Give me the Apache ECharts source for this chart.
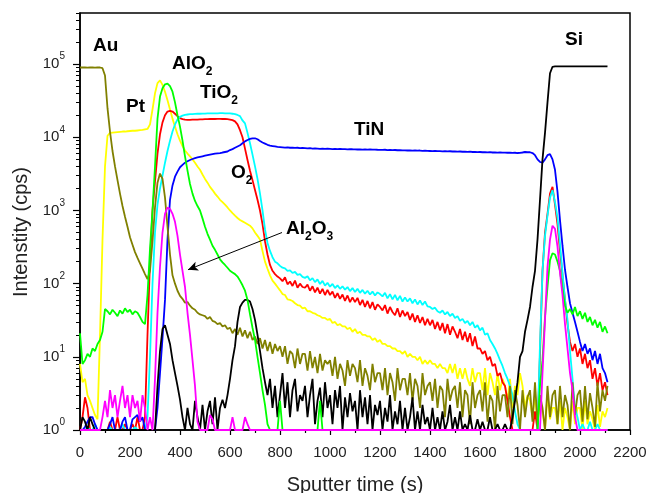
<!DOCTYPE html>
<html><head><meta charset="utf-8">
<script src="https://cdn.jsdelivr.net/npm/echarts@6/dist/echarts.min.js"></script>
<style>html,body{margin:0;padding:0;background:#fff}#c{width:649px;height:493px}</style>
</head><body><div id="c"></div>
<script>
// sampling grid (s)
const times = [];
for (let t = 0; t <= 2110; t += 10) times.push(t);

const xTickValues = [0,200,400,600,800,1000,1200,1400,1600,1800,2000,2200];
const yTickValues = [1,10,100,1000,10000,100000];
const yTickExponents = ['0','1','2','3','4','5'];
const yMinorValues = [2,3,4,5,6,7,8,9,20,30,40,50,60,70,80,90,200,300,400,500,600,700,800,900,
  2000,3000,4000,5000,6000,7000,8000,9000,20000,30000,40000,50000,60000,70000,80000,90000,
  200000,300000,400000,500000];

const au = [
90000,90500,90000,89500,90000,90000,89800,90200,90000,88000,
70000,25000,12000,6500,4000,2600,1700,1150,820,600,
430,340,270,225,190,160,135,115,150,380,
1100,2400,3200,2700,1500,600,250,130,100,80,
68,62,55,56,50,46,44,40,38,37,
36,33,35,31,30,28,29,26,27,24,
25,21,24,20,25,19,23,18,22,17,
19,15,18,13,17,12,16,11,15,12,
14,10,14,8,12,11,7,13,8,11,
11,6.5,12,7,10,6,11,6.5,9,8,
9,5.5,10,5,8,6.5,4,9,5.5,8,
7,4.5,9,4,7,5.5,3.5,8,4.5,6,
6,3.5,7,3,6,4.5,2.5,7,3.5,5,
5,3,6,2.5,5,4,2,6,3,4,
4.5,2.5,5,2,4,3.5,1.5,5,2.5,3.5,
4,2,4.5,1.5,3.5,3,1.2,4.5,2,3,
3.5,1.8,4.5,1.3,3,2.5,1,4,1.8,3,
3,1.5,4,1.2,3.5,2.2,1,3.5,1.5,2.8,
3.5,1.3,4.5,1.2,3,2,1,4,1.5,3,
3.5,1.2,4,1.5,3,2.2,1,4.5,1.6,3,
3.5,1.3,4,1.4,3.2,2,1.1,4.5,1.8,3.5,
2.5,4];

const pt = [
8,4.5,5,3,2.5,2,1.6,1.4,20,400,
4000,10500,11500,11600,11700,11800,11900,12000,12000,12100,
12200,12300,12300,12400,12500,12600,12800,13000,15000,24000,
40000,55000,60000,52000,42000,32000,24000,18000,14000,11000,
9000,7600,6600,6000,5500,5000,4500,4000,3600,3100,
2700,2400,2100,1900,1700,1550,1400,1300,1200,1100,
1000,920,850,790,740,710,680,650,620,570,
500,450,400,280,200,160,130,110,100,90,
81,72,70,61,60,58,54,51,50,46,
47,42,42,40,39,37,36,34,34,32,
33,29,30,27,28,26,26,24,25,22,
24,21,22,20,20,19,19,17,18,16,
17,15,15,14,14,13,13,12,12,11,
12,10,11,10,10,9,10,8,9,8,
9,8,8,7,8,7,7,6,8,6,
8,5,7,5,7,5,4,7,4.5,6,
6,3.5,7,3,6,4.5,3,6,3.5,5,
4,2.5,5,2,4,3,6,4,2,3,
2.5,1.5,3,1.2,2.5,1.8,1,3,1.4,2,
2,1.2,2.5,1,2,1.5,1,2.5,1.2,2,
2,1,2.5,1.2,1.8,1.4,1,2.2,1.1,1.8,
1.5,2];

const alo2 = [
21,8,9,11,10,13,12,15,17,22,
45,42,38,44,40,36,43,39,46,41,
44,38,42,40,35,30,28,70,300,1000,
4000,18000,36000,47000,53000,54000,50000,42000,30000,20000,
14000,9000,5500,3500,2300,1700,1350,1150,1000,780,
600,480,400,330,290,250,215,195,180,165,
150,142,135,125,110,95,80,60,38,25,
17,10,6,3.5,2.2,1.2,1,1,1,1,
2.5,1,1,1,1,1,1,1,1,1,
1,1,1,1,1,1,2.5,1,1,1,
1,1,1,1,1,1,1,1,1,1,
1,1,1,1,1,1,1,1,1,1,
1,1,1,1,1,1,1,1,1,1,
1,1,1,1,1,1,1,1,1,1,
1,1,1,1,1,1,1,1,1,1,
1,1,1,1,1,1,1,1,1,1,
1,1,1,1,1,1,1,1,1,1,
1,1,1,1,1,1,1,1,1,1,
1,1,1,1,4,9,35,90,210,260,
250,200,150,85,50,40,45,38,48,36,
42,33,40,30,35,27,32,25,30,22,
26,21];

const o2 = [
1,1.5,2.8,2,1,1,1,1,1,1,
1,1,1.3,1,1,1.5,1,1,1.2,1,
1,1.2,1,1.5,1,1,1.5,20,200,1000,
2500,6000,11000,16000,20000,22500,23000,22500,21000,19500,
18300,17700,17400,17300,17300,17400,17500,17500,17600,17600,
17700,17700,17800,17800,17800,17900,17900,17800,17800,17700,
17500,17200,16500,15000,12500,10000,7000,4900,3500,2600,
1900,1400,1000,650,380,250,180,150,135,125,
118,108,122,98,107,93,110,88,100,90,
88,97,80,92,76,88,73,85,70,82,
70,78,64,74,62,71,58,69,56,65,
56,64,51,60,48,58,46,56,44,52,
48,43,51,39,48,41,37,46,35,43,
36,41,32,39,30,37,29,35,27,33,
27,32,24,30,23,29,21,28,20,26,
22,18,24,17,22,16,21,14,19,13,
13,11,12,9,10,7.5,8,5.5,6,4.5,
4,2.5,1.5,1,1,1,1,1,1,1,
1,1,1.8,1,11,150,500,900,1700,2100,
1200,650,280,130,60,28,16,12,15,10,
13,8,11,7,9,5,7,4,6,3.5,
4.5,3];

const tio2 = [
1,1,1,1.1,1,1,1.2,1,1,1,
1,1,1.1,1,1,1,1,1.2,1,1,
1,1,1.1,1,1,1,1,1.5,10,100,
500,1200,2000,3000,4500,6500,9000,12000,15000,17500,
19000,19800,20300,20500,20700,20800,20900,21000,21000,21100,
21100,21200,21200,21300,21300,21300,21400,21400,21300,21300,
21200,21000,20700,20200,19500,17000,15500,11500,8300,5800,
4000,2700,1700,1000,550,360,280,230,200,190,
175,165,162,150,152,140,145,132,135,124,
120,126,111,119,105,114,99,109,94,103,
91,99,87,95,85,92,83,90,79,87,
77,85,75,82,73,80,71,78,69,76,
72,67,75,63,72,61,70,59,68,57,
65,57,63,54,61,52,59,51,57,49,
48,45,47,42,40,43,38,41,36,39,
34,36,31,33,29,31,27,30,25,27,
23,25,20,21,17,15,13,11,9,7.5,
6,5,4,3,1.8,1.2,1,1,1,1,
1,1,1,1,15,150,450,850,1500,1900,
1300,800,350,140,60,32,12,5,2,1.5,
1,1.2,1,1,1.3,1,1,1.2,1,1,
1,1];

const tin = [
1,1,1.1,1.3,1.5,1.5,1.2,1,1,1,
1,1,1.2,1.5,1,1,1,1.3,1.5,1,
1,1.4,1.5,1.6,1.3,1.5,1,1,1,1,
1,2,6,18,60,400,1400,2200,2900,3400,
3900,4200,4500,4700,4900,5050,5200,5300,5400,5500,
5600,5700,5800,5900,6000,6050,6100,6200,6300,6400,
6700,6900,7200,7500,7800,8300,8800,9200,9500,9700,
9700,9400,8900,8500,8200,7900,7700,7600,7500,7400,
7350,7300,7250,7300,7200,7250,7150,7200,7100,7150,
7100,7050,7100,7000,7050,7000,6950,7000,6950,6980,
6950,6900,6950,6900,6920,6880,6900,6850,6900,6870,
6850,6820,6860,6800,6840,6790,6820,6780,6800,6760,
6750,6720,6760,6700,6730,6680,6710,6660,6690,6640,
6650,6600,6640,6580,6620,6560,6600,6540,6570,6520,
6500,6480,6520,6460,6490,6440,6470,6420,6450,6400,
6420,6380,6400,6350,6380,6330,6360,6300,6340,6280,
6300,6250,6280,6220,6260,6200,6230,6180,6210,6160,
6180,6150,6170,6120,6150,6100,6130,6200,6300,6250,
6250,6100,5700,5000,4600,4500,5000,5700,5900,5000,
3600,1800,740,330,155,90,54,40,30,22,
16,12,15,11,13,9,12,8,11,7,
6,4.5];

const al2o3 = [
1,1,1,1,1,1,1,1,1,1.5,
2.5,1.5,3.5,2,3,1.5,2.5,4,2,3,
1.5,3,2,2.5,1.3,3,2,1,1.5,1,
5,40,170,500,900,1100,1050,900,700,450,
250,150,90,40,20,9,4,1.3,1,1,
1,1,1.6,1.4,1,1,1,1,1,1,
1,1.5,1,1,1,1,1.5,1.2,1,1,
1,1,1,1,1,1,1,1,1,1,
1,1,1,1,1,1,1,1,1,1,
1,1,1,1,1,1,1,1,1,1,
1,1,1,1,1,1,1,1,1,1,
1,1,1,1,1,1,1,1,1,1,
1,1,1,1,1,1,1,1,1,1,
1,1,1,1,1,1,1,1,1,1,
1,1,1,1,1,1,1,1,1,1,
1,1,1,1,1,1,1,1,1,1,
1,1,1,1,1,1,1,1,1,1,
1,1,1,1,1,1,1,1,1,1,
1,1,1,1,1,6,32,170,400,620,
560,320,140,70,28,13,6,3.5,1.5,1,
1,1,1,1,1,1,1,1,1,1,
1,1];

const si = [
1,1.5,1.3,1,1.5,1.2,1,1,1,1,
1,1,1,1,1,1,1,1,1,1,
1,1,1,1,1,1,1,1,1,1,
1,4,12,24,27,20,15,9,6,4,
2.6,1.5,1,2,1.2,1,2.5,1.5,1,2.2,
1,1.8,2.5,1.2,2.8,1,2,2.6,2,3,
5,9,14,30,48,55,60,60,57,45,
32,20,12,7,4.5,3,5,2,4,1.5,
3,6,2,4.5,1.5,3.5,5,1.8,3,2.5,
4,1.5,3,5,1.2,2.5,3.8,1.5,4.5,2,
3,1.2,3.5,2,4,1,2.8,1.5,3.2,1.8,
2.5,1,3.5,1.5,2.8,1.2,3,1,2.2,1.6,
2.5,1,2,1.3,3,1,1.8,1.2,2.5,1,
2,1,1.5,2.8,1,1.8,1,2.2,1.2,1.5,
1,2,1,1.5,1,1.8,1,1.3,2.2,1,
1.5,1,1.8,1,1.2,1,1.6,1,1,1.4,
1,1.3,1,1,1.5,1,1,1.2,1,1,
1.2,1,1,1.5,2.5,4.5,10,12,22,32,
48,90,150,400,1400,5000,11500,30000,75000,92000,
93000,93500,93000,93200,93000,93500,93200,93000,93400,93000,
93200,93100,93000,93300,93000,93200,93100,93000,93300,93000,
93200,93000];

const seriesDefs = [
  {name:'Pt', data: pt, color:'#ffff00'},
  {name:'O2', data: o2, color:'#ff0000'},
  {name:'TiO2', data: tio2, color:'#00ffff'},
  {name:'TiN', data: tin, color:'#0000ff'},
  {name:'Au', data: au, color:'#808000'},
  {name:'Si', data: si, color:'#000000'},
  {name:'AlO2', data: alo2, color:'#00ff00'},
  {name:'Al2O3', data: al2o3, color:'#ff00ff'}
];

const arrowFrom = [808, 500];
const arrowTo = [432, 155];

const FONT = '"Liberation Sans", Arial, sans-serif';

const labels = [
  {left:93, top:36, text:'{m|Au}'},
  {left:126, top:97, text:'{m|Pt}'},
  {left:172, top:50, text:'{m|AlO}{s|2}'},
  {left:200, top:79, text:'{m|TiO}{s|2}'},
  {left:354, top:120, text:'{m|TiN}'},
  {left:231, top:159, text:'{m|O}{s|2}'},
  {left:286, top:215, text:'{m|Al}{s|2}{m|O}{s|3}'},
  {left:565, top:30, text:'{m|Si}'}
];

const chart = echarts.init(document.getElementById('c'), null, {renderer:'canvas'});

const series = seriesDefs.map(d => ({
  name: d.name, type:'line', showSymbol:false, symbol:'none',
  data: d.data.map((v,i) => [times[i], v]),
  lineStyle:{color:d.color, width:1.8},
  itemStyle:{color:d.color},
  clip:true, animation:false
}));
series[series.length-1].markLine = {
  silent:true, symbol:['none','arrow'], symbolSize:[7,10],
  lineStyle:{color:'#000', width:1, type:'solid'},
  label:{show:false},
  data:[[{coord:arrowFrom},{coord:arrowTo}]]
};

chart.setOption({
  animation:false,
  backgroundColor:'#fff',
  grid:{left:80, right:19, top:13, bottom:63, show:true, borderColor:'#000', borderWidth:1.5,
        containLabel:false, outerBoundsMode:'none'},
  xAxis:{
    type:'value', min:0, max:2200, interval:200,
    name:'Sputter time (s)', nameLocation:'middle', nameGap:45,
    nameTextStyle:{fontFamily:FONT, fontSize:20, color:'#222'},
    axisLine:{lineStyle:{color:'#000', width:1.5}},
    axisTick:{length:5, lineStyle:{color:'#000', width:1.2}},
    minorTick:{show:true, splitNumber:2, length:3, lineStyle:{color:'#000', width:1.2}},
    splitLine:{show:false},
    axisLabel:{fontFamily:FONT, fontSize:15, color:'#222', margin:15, formatter: v => String(v)}
  },
  yAxis:[{
    type:'log', logBase:10, min:1, max:500000,
    axisLine:{show:true, lineStyle:{color:'#000', width:1.5}},
    axisTick:{show:true, length:7, customValues:yTickValues, lineStyle:{color:'#000', width:1.2}},
    splitLine:{show:false},
    axisLabel:{
      customValues:yTickValues, margin:15,
      formatter: v => '{a|10}{s|' + yTickExponents[yTickValues.indexOf(Math.round(v))] + '}',
      rich:{
        a:{fontFamily:FONT, fontSize:15, color:'#222', lineHeight:25, verticalAlign:'middle'},
        s:{fontFamily:FONT, fontSize:10, color:'#222', lineHeight:10, verticalAlign:'top'}
      }
    }
  },{
    type:'log', logBase:10, min:1, max:500000, position:'left',
    axisLine:{show:false},
    axisTick:{show:true, length:4, customValues:yMinorValues, lineStyle:{color:'#000', width:1}},
    axisLabel:{show:false},
    splitLine:{show:false}
  }],
  series: series,
  graphic: labels.map(l => ({
    type:'text', left:l.left, top:l.top, z:100,
    style:{
      text:l.text, fill:'#000',
      rich:{
        m:{fontFamily:FONT, fontSize:19, fontWeight:'bold', fill:'#000', lineHeight:28},
        s:{fontFamily:FONT, fontSize:12, fontWeight:'bold', fill:'#000', lineHeight:12, padding:[16,0,0,0]}
      }
    }
  })).concat([{
    type:'text', x:21, y:232, rotation:Math.PI/2, z:100,
    style:{text:'Intenstity (cps)', fontFamily:FONT, fontSize:20, fill:'#222', align:'center', verticalAlign:'middle'}
  }])
});
</script></body></html>
